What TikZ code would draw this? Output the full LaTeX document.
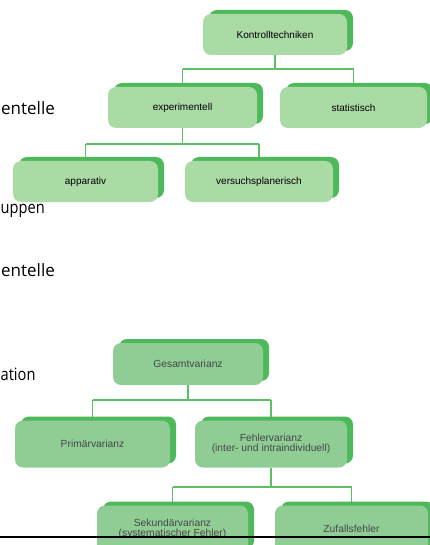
\documentclass[tikz,border=0pt]{standalone}
\usepackage{fontspec}
\setmainfont{Liberation Sans}
\newfontfamily\fragfont{Open Sans}
\usetikzlibrary{shadows,backgrounds}
\definecolor{topfill}{HTML}{ABDBA5}
\definecolor{botfill}{HTML}{8FCD95}
\definecolor{shadowgreen}{HTML}{4DB95B}
\definecolor{linegreen}{HTML}{5DBE63}
\tikzset{
  boxbase/.style={rounded corners=8pt, draw=none, inner sep=0pt, align=center,
    copy shadow={shadow xshift=6pt, shadow yshift=4pt, fill=shadowgreen, draw=none}},
  topbox/.style={boxbase, fill=topfill, minimum height=41pt, text=black,
    font=\fontsize{10}{11}\selectfont},
  botbox/.style={boxbase, fill=botfill, minimum height=47pt, text=black!72,
    font=\fontsize{10.3}{10.5}\selectfont},
  conn/.style={draw=linegreen, line width=1.8pt},
  frag/.style={anchor=base west, inner sep=0pt, text=black,
    font=\fragfont\fontsize{17}{20}\selectfont},
}
\begin{document}
\begin{tikzpicture}[x=1pt,y=-1pt]
\useasboundingbox (0,0) rectangle (430,545);
\begin{scope}
\clip (0,0) rectangle (430,545);

% text fragments on the left
\node[frag] (f1) at (1,115) {entelle};
\node[frag] (f2) at (0.5,213) {\addfontfeature{FakeStretch=0.86}uppen};
\node[frag] (f3) at (1,276) {entelle};
\node[frag] (f4) at (0.5,380) {\addfontfeature{FakeStretch=0.86}ation};

% upper tree
\node[topbox, minimum width=144pt] (K) at (275,34.5) {Kontrolltechniken};
\node[topbox, minimum width=149pt] (E) at (182.5,107.5) {experimentell};
\node[topbox, minimum width=147pt] (S) at (353.5,107.5) {statistisch};
\node[topbox, minimum width=145pt] (A) at (85.5,181.5) {apparativ};
\node[topbox, minimum width=148pt] (V) at (259,181.5) {versuchsplanerisch};

% lower tree
\node[botbox, minimum width=150pt, minimum height=42pt] (G) at (188,364) {Gesamtvarianz};
\node[botbox, minimum width=155pt] (P) at (92.5,444) {Primärvarianz};
\node[botbox, minimum width=152pt] (F) at (271,444) {Fehlervarianz\\(inter- und intraindividuell)};
\node[botbox, minimum width=151pt] (SK) at (172.5,529) {Sekundärvarianz\\(systematischer Fehler)};
\node[botbox, minimum width=153pt] (Z) at (351.5,529) {Zufallsfehler};

\begin{pgfonlayer}{background}
\draw[conn] (K.south) -- ++(0,14) coordinate (k1);
\draw[conn] (E.north |- k1) -- (S.north |- k1);
\draw[conn] (E.north |- k1) -- (E.north);
\draw[conn] (S.north |- k1) -- (S.north);

\draw[conn] (E.south) -- ++(0,16) coordinate (e1);
\draw[conn] (A.north |- e1) -- (V.north |- e1);
\draw[conn] (A.north |- e1) -- (A.north);
\draw[conn] (V.north |- e1) -- (V.north);

\draw[conn] (G.south) -- ++(0,15) coordinate (g1);
\draw[conn] (P.north |- g1) -- (F.north |- g1);
\draw[conn] (P.north |- g1) -- (P.north);
\draw[conn] (F.north |- g1) -- (F.north);

\draw[conn] (F.south) -- ++(0,19) coordinate (h1);
\draw[conn] (SK.north |- h1) -- (Z.north |- h1);
\draw[conn] (SK.north |- h1) -- (SK.north);
\draw[conn] (Z.north |- h1) -- (Z.north);
\end{pgfonlayer}

% black rule at the bottom
\coordinate (r0) at (0,537);
\coordinate (r1) at (430,537);
\draw[black, line width=2pt] (r0) -- (r1);
\end{scope}
\end{tikzpicture}
\end{document}
